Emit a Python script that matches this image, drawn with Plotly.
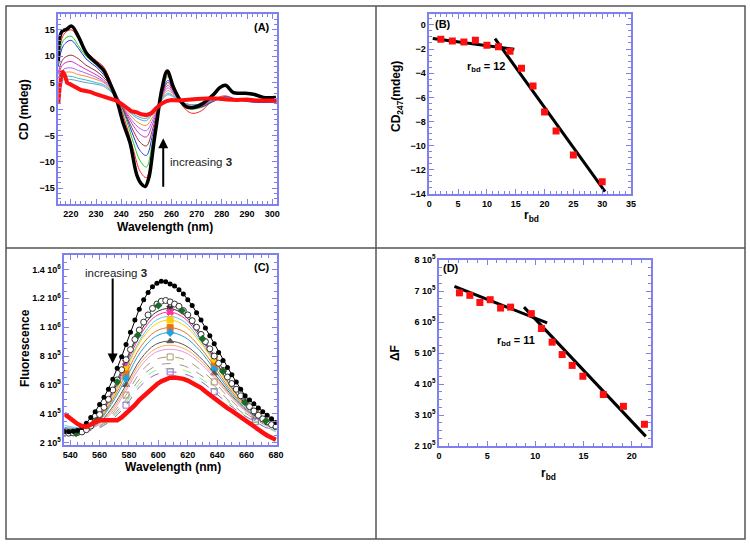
import numpy as np
import plotly.graph_objects as go

# ---------------- panel A: CD spectra ----------------
A_WL = [215, 217, 220, 223, 226, 230, 233, 236, 239, 242, 245, 247.5, 250, 252.5,
        255, 258.5, 261, 264, 268, 272, 276, 281, 286, 292, 301.8]
A_THIN = {
    "#ff2020": [9, 14, 15, 13.5, 11, 9.2, 8, 5, 1.5, -3, -8, -11.8, -13, -7, 0.3, 6.5,
                4, 0.8, -0.8, -0.3, 1.5, 2.5, 1.8, 1.5, 1.5],
    "#22cc22": [8, 13, 13.8, 12, 10, 8.5, 7, 4.8, 1.8, -2, -6.6, -9.8, -11, -6, 0.4, 6.1,
                3.8, 0.8, 0, 0.3, 1.3, 2.3, 1.8, 1.5, 1.4],
    "#2233dd": [8, 12, 13, 11.5, 9.5, 8, 6.5, 4.5, 1.8, -1.5, -5.3, -7.9, -8.8, -4.8, 0.5, 5.4,
                3.5, 0.9, 0.2, 0.4, 1.3, 2.3, 1.8, 1.3, 1.3],
    "#993333": [7, 9.5, 10.2, 9.5, 8.3, 7.2, 6, 4.2, 1.8, -1.2, -4.3, -6.3, -7, -3.8, 0.6, 5,
                3.2, 1, 0.3, 0.5, 1.4, 2.2, 1.8, 1.4, 1.4],
    "#cc33cc": [6.5, 8.5, 9, 8.3, 7.5, 6.5, 5.5, 4, 1.8, -0.8, -3.3, -4.8, -5.3, -2.8, 0.7, 4.5,
                3, 1, 0.4, 0.6, 1.5, 2.2, 1.8, 1.5, 1.5],
    "#a866ee": [6, 7.5, 7.8, 7.3, 6.8, 6, 5.2, 3.8, 1.6, -0.6, -2.6, -3.7, -4.1, -2.1, 0.8, 4,
                2.8, 1.1, 0.5, 0.7, 1.5, 2.1, 1.8, 1.5, 1.5],
    "#ff8833": [5.5, 6.8, 7, 6.5, 6.2, 5.6, 5, 3.6, 1.5, -0.3, -1.9, -2.8, -3.1, -1.5, 0.9, 3.5,
                2.6, 1.2, 0.6, 0.8, 1.6, 2.1, 1.8, 1.6, 1.5],
    "#33bbcc": [5, 6, 6.2, 5.8, 5.5, 5, 4.6, 3.4, 1.5, 0, -1.3, -2, -2.2, -0.9, 1, 3,
                2.4, 1.3, 0.8, 0.9, 1.6, 2, 1.8, 1.6, 1.5],
    "#6699cc": [4.5, 5.5, 5.6, 5.3, 5, 4.7, 4.3, 3.2, 1.5, 0.1, -1, -1.6, -1.8, -0.7, 1, 2.7,
                2.2, 1.3, 0.8, 1, 1.6, 2, 1.8, 1.6, 1.5],
}
A_BLACK_WL = [215, 216.3, 218.3, 220.3, 223, 226.3, 230.3, 232.9, 235.5, 238.2, 240.8, 243.5,
              246.2, 248, 249.5, 251, 252.1, 253, 254.1, 256.1, 258.3, 260.7, 263.4, 266,
              268.7, 272.6, 276.6, 279.3, 281.5, 284.6, 288.5, 292.5, 296.5, 301.5]
A_BLACK = [9.0, 14.6, 15.1, 15.7, 13.7, 10.5, 8.6, 7.4, 4.9, 1.7, -2.7, -6.4,
           -12.5, -14.2, -14.7, -13.0, -9.7, -6.3, -2.7, 3.6, 7.2, 4.2, 1.7, 0.4,
           0.3, 1.1, 2.7, 4.1, 4.5, 3.1, 3.0, 2.8, 2.2, 2.2]
A_RED_WL = [215, 215.5, 216.5, 217.5, 218.5, 220, 222, 224, 226, 228, 230, 232, 234, 236,
            238, 240, 242, 244, 246, 248, 250, 252, 254, 256, 258, 260, 263, 266, 270,
            274, 278, 282, 286, 290, 294, 298, 301.8]
A_RED = [1.0, 4.0, 7.2, 6.5, 5.0, 4.6, 4.2, 3.6, 3.4, 3.2, 2.8, 2.5, 2.2, 2.0,
         1.6, 1.0, 0.3, -0.4, -0.6, -1.0, -1.15, -0.8, 0.2, 1.0, 1.5, 1.7, 1.6, 1.8, 1.9,
         2.0, 2.0, 1.8, 1.7, 1.8, 1.6, 1.6, 1.6]

# ---------------- panel B: CD247 vs r_bd ----------------
B_R = [2, 4, 6, 8, 10, 12, 14, 16, 18, 20, 22, 25, 30]
B_CD = [-1.19, -1.33, -1.41, -1.27, -1.68, -1.82, -2.18, -3.59, -5.05, -7.21, -8.78, -10.77, -12.98]
B_FIT1_X, B_FIT1_Y = [0.6, 14.75], [-1.13, -2.02]
B_FIT2_X, B_FIT2_Y = [11.4, 30.5], [-1.13, -13.8]

# ---------------- panel C: fluorescence spectra (units of 1e5) ----------------
C_WL = [536, 539, 542, 545, 548, 551, 554, 557, 560, 563, 566, 569, 572, 575, 578, 581,
        584, 587, 590, 593, 596, 599, 602, 605, 608, 611, 614, 617, 620, 623, 626, 629,
        632, 635, 638, 641, 644, 647, 650, 653, 656, 659, 662, 665, 668, 671, 674, 677, 680]
C_BLACK = [2.75, 2.76, 2.8, 2.85, 3.05, 3.35, 3.75, 4.15, 4.65, 5.15, 5.7, 6.4, 7.15, 7.95,
           8.8, 9.65, 10.5, 11.25, 11.9, 12.4, 12.8, 13.05, 13.18, 13.15, 13.0, 12.85, 12.6,
           12.3, 11.9, 11.5, 11.0, 10.5, 9.95, 9.4, 8.85, 8.25, 7.7, 7.2, 6.7, 6.2, 5.7,
           5.25, 4.95, 4.7, 4.4, 4.15, 3.9, 3.65, 3.4]
C_OPEN = [2.65, 2.66, 2.68, 2.7, 2.75, 2.9, 3.15, 3.5, 3.95, 4.45, 5.0, 5.65, 6.35, 7.05,
          7.75, 8.45, 9.15, 9.8, 10.35, 10.85, 11.3, 11.6, 11.8, 11.85, 11.75, 11.6, 11.45,
          11.15, 10.85, 10.45, 10.0, 9.5, 9.0, 8.5, 8.0, 7.5, 7.0, 6.55, 6.1, 5.7, 5.25,
          4.85, 4.5, 4.2, 3.9, 3.65, 3.45, 3.25, 3.1]
C_RED = [4.0, 3.75, 3.5, 3.3, 3.15, 3.1, 3.25, 3.45, 3.55, 3.55, 3.5, 3.5, 3.55, 3.75,
         4.0, 4.3, 4.6, 4.95, 5.25, 5.55, 5.8, 6.05, 6.25, 6.4, 6.5, 6.52, 6.5, 6.42, 6.3,
         6.15, 6.0, 5.8, 5.55, 5.3, 5.1, 4.85, 4.6, 4.4, 4.2, 3.98, 3.75, 3.5, 3.3, 3.1,
         2.9, 2.7, 2.5, 2.35, 2.2]
C_GREEN_WL = [544, 558, 572, 586, 600, 616, 630, 644, 659, 673]
C_GREEN = [2.65, 3.55, 6.2, 9.45, 11.5, 11.15, 9.2, 6.95, 4.8, 3.5]

C_THIN_WL = [536, 548, 558, 568, 578, 588, 598, 608, 618, 628, 638, 648, 658, 666, 674, 680]
C_MARK_IDX = [4, 7, 10, 13]
# (colour, dash, marker symbol, values)
C_THIN = [
    ("#333333", "solid", "x", [2.9, 2.9, 3.6, 5.3, 7.55, 9.75, 11.0, 11.3, 10.8, 9.5, 7.85, 6.1, 4.8, 4.05, 3.5, 3.2]),
    ("#ff3399", "solid", "x", [2.95, 2.95, 3.55, 5.2, 7.35, 9.5, 10.75, 11.05, 10.6, 9.35, 7.75, 6.05, 4.75, 4.0, 3.45, 3.15]),
    ("#55ccee", "solid", None, [3.2, 3.05, 3.5, 5.0, 7.15, 9.2, 10.45, 10.75, 10.35, 9.15, 7.65, 6.0, 4.7, 3.95, 3.4, 3.1]),
    ("#ffcc00", "solid", "square", [3.0, 3.0, 3.45, 4.95, 7.05, 9.05, 10.2, 10.5, 10.1, 9.0, 7.6, 5.95, 4.7, 4.1, 3.45, 3.1]),
    ("#e8731a", "solid", "square", [2.95, 2.95, 3.4, 4.8, 6.75, 8.65, 9.7, 9.97, 9.65, 8.65, 7.3, 5.8, 4.6, 3.98, 3.4, 3.05]),
    ("#22a0e0", "solid", "diamond", [3.05, 3.0, 3.35, 4.65, 6.45, 8.3, 9.35, 9.63, 9.3, 8.4, 7.07, 5.65, 4.5, 3.85, 3.35, 3.0]),
    ("#555555", "solid", "triangle-up", [2.9, 2.9, 3.25, 4.35, 6.0, 7.8, 8.8, 9.03, 8.75, 7.95, 6.8, 5.5, 4.4, 3.8, 3.3, 3.0]),
    ("#ffaa55", "solid", None, [2.85, 2.85, 3.2, 4.2, 5.8, 7.55, 8.5, 8.75, 8.5, 7.75, 6.65, 5.4, 4.35, 3.75, 3.25, 2.95]),
    ("#dd99dd", "solid", None, [2.8, 2.85, 3.15, 4.05, 5.6, 7.3, 8.25, 8.47, 8.25, 7.55, 6.5, 5.3, 4.3, 3.7, 3.2, 2.9]),
    ("#b09a6a", "dash", "square-open", [2.75, 2.8, 3.05, 3.9, 5.3, 6.9, 7.75, 7.94, 7.75, 7.1, 6.21, 5.1, 4.15, 3.6, 3.15, 2.85]),
    ("#999999", "dash", None, [2.75, 2.8, 3.0, 3.75, 5.0, 6.5, 7.3, 7.48, 7.3, 6.75, 5.95, 4.9, 4.0, 3.5, 3.05, 2.8]),
    ("#88ee88", "dash", "line-ew-open", [2.8, 2.85, 3.0, 3.65, 4.8, 6.2, 7.0, 7.14, 7.0, 6.5, 5.75, 4.8, 3.95, 3.45, 3.0, 2.75]),
    ("#9966cc", "dash", "square-open", [2.7, 2.8, 2.95, 3.55, 4.6, 5.95, 6.7, 6.9, 6.75, 6.3, 5.52, 4.65, 3.9, 3.45, 3.0, 2.75]),
]

# ---------------- panel D: delta F vs r_bd (units of 1e5) ----------------
D_R = [2.12, 3.2, 4.24, 5.31, 6.39, 7.43, 9.58, 10.63, 11.74, 12.78, 13.82, 14.93, 17.05, 19.14, 21.32]
D_DF = [6.94, 6.86, 6.63, 6.72, 6.45, 6.48, 6.27, 5.79, 5.35, 4.95, 4.6, 4.25, 3.66, 3.28, 2.7]
D_FIT1_X, D_FIT1_Y = [1.6, 11.22], [7.15, 5.97]
D_FIT2_X, D_FIT2_Y = [8.82, 21.46], [6.48, 2.31]

C_TICKS = [2, 4, 6, 8, 10, 12, 14]
C_TICKTEXT = ["2 10<sup>5</sup>", "4 10<sup>5</sup>", "6 10<sup>5</sup>", "8 10<sup>5</sup>",
              "1 10<sup>6</sup>", "1.2 10<sup>6</sup>", "1.4 10<sup>6</sup>"]
D_TICKS = [2, 3, 4, 5, 6, 7, 8]
D_TICKTEXT = [f"{t} 10<sup>5</sup>" for t in D_TICKS]

W, H = 750, 545
FONT = "Liberation Sans, Arial, sans-serif"
AX = "#8080f0"


def px(x):
    return x / W


def py(y):
    return 1 - y / H


def axis(**kw):
    d = dict(showline=True, linecolor=AX, linewidth=1.5, mirror="ticks", ticks="inside",
             ticklen=5, tickwidth=1, tickcolor=AX, showgrid=False, zeroline=False, automargin=False,
             tickfont=dict(family=FONT, size=9, color="black", weight="bold"))
    d.update(kw)
    return d


def minor(dt):
    return dict(ticks="inside", ticklen=3, tickcolor=AX, dtick=dt, showgrid=False)


fig = go.Figure()

# A
for col, vals in A_THIN.items():
    fig.add_trace(go.Scatter(x=A_WL, y=vals, mode="lines", line=dict(color=col, width=1, shape="spline"),
                             xaxis="x", yaxis="y"))
fig.add_trace(go.Scatter(x=A_BLACK_WL, y=A_BLACK, mode="lines",
                         line=dict(color="black", width=3.5, shape="spline"), xaxis="x", yaxis="y"))
fig.add_trace(go.Scatter(x=A_RED_WL, y=A_RED, mode="lines",
                         line=dict(color="#ff1010", width=4), xaxis="x", yaxis="y"))

# B
fig.add_trace(go.Scatter(x=B_FIT1_X, y=B_FIT1_Y, mode="lines", line=dict(color="black", width=3),
                         xaxis="x2", yaxis="y2"))
fig.add_trace(go.Scatter(x=B_FIT2_X, y=B_FIT2_Y, mode="lines", line=dict(color="black", width=3),
                         xaxis="x2", yaxis="y2"))
fig.add_trace(go.Scatter(x=B_R, y=B_CD, mode="markers",
                         marker=dict(symbol="square", size=7, color="#ff1010"), xaxis="x2", yaxis="y2"))

# C
sc = 1e5
for col, dash, sym, vals in C_THIN:
    v = np.array(vals) * sc
    fig.add_trace(go.Scatter(x=C_THIN_WL, y=v, mode="lines",
                             line=dict(color=col, width=1, dash=dash, shape="spline"),
                             xaxis="x3", yaxis="y3"))
    if sym:
        fig.add_trace(go.Scatter(x=[C_THIN_WL[i] for i in C_MARK_IDX], y=[v[i] for i in C_MARK_IDX],
                                 mode="markers",
                                 marker=dict(symbol=sym, size=6, color=col, line=dict(color=col, width=1)),
                                 xaxis="x3", yaxis="y3"))
fig.add_trace(go.Scatter(x=C_WL, y=np.array(C_OPEN) * sc, mode="lines+markers",
                         line=dict(color="#444444", width=1),
                         marker=dict(symbol="circle", size=6, color="white", line=dict(color="#333333", width=1)),
                         xaxis="x3", yaxis="y3"))
fig.add_trace(go.Scatter(x=C_GREEN_WL, y=np.array(C_GREEN) * sc, mode="markers",
                         marker=dict(symbol="diamond", size=6, color="#1a6b2a"), xaxis="x3", yaxis="y3"))
fig.add_trace(go.Scatter(x=C_WL, y=np.array(C_BLACK) * sc, mode="lines+markers",
                         line=dict(color="black", width=1), marker=dict(symbol="circle", size=5, color="black"),
                         xaxis="x3", yaxis="y3"))
fig.add_trace(go.Scatter(x=C_WL, y=np.array(C_RED) * sc, mode="lines",
                         line=dict(color="#ff1010", width=4.5), xaxis="x3", yaxis="y3"))

# D
fig.add_trace(go.Scatter(x=D_FIT1_X, y=np.array(D_FIT1_Y) * sc, mode="lines", line=dict(color="black", width=3),
                         xaxis="x4", yaxis="y4"))
fig.add_trace(go.Scatter(x=D_FIT2_X, y=np.array(D_FIT2_Y) * sc, mode="lines", line=dict(color="black", width=3),
                         xaxis="x4", yaxis="y4"))
fig.add_trace(go.Scatter(x=D_R, y=np.array(D_DF) * sc, mode="markers",
                         marker=dict(symbol="square", size=7, color="#ff1010"), xaxis="x4", yaxis="y4"))

fig.update_layout(
    template="none",
    width=W, height=H, margin=dict(l=0, r=0, t=0, b=0, pad=0), autosize=False,
    paper_bgcolor="white", plot_bgcolor="white", showlegend=False,
    xaxis=axis(domain=[px(58.3), px(276.7)], range=[215, 301.8], anchor="y", dtick=10, tick0=0, minor=minor(2)),
    yaxis=axis(domain=[py(204), py(14)], range=[-18, 18], anchor="x", dtick=5, tick0=0, minor=minor(1)),
    xaxis2=axis(domain=[px(429.3), px(631)], range=[0, 35], anchor="y2", dtick=5, minor=minor(1)),
    yaxis2=axis(domain=[py(194), py(14)], range=[-14, 0.9], anchor="x2", dtick=2, minor=minor(0.5)),
    xaxis3=axis(domain=[px(64.3), px(276.7)], range=[536, 680.5], anchor="y3", dtick=20, tick0=0, minor=minor(5)),
    yaxis3=axis(domain=[py(445), py(255)], range=[1.84e5, 1.5e6], anchor="x3",
                tickvals=[t * sc for t in C_TICKS], ticktext=C_TICKTEXT,
                minor=dict(ticks="inside", ticklen=3, tickcolor=AX, tickmode="linear", tick0=0, dtick=5e4)),
    xaxis4=axis(domain=[px(439), px(651)], range=[0, 22], anchor="y4", dtick=5, minor=minor(1)),
    yaxis4=axis(domain=[py(446), py(260)], range=[2e5, 8e5], anchor="x4",
                tickvals=[t * sc for t in D_TICKS], ticktext=D_TICKTEXT,
                minor=dict(ticks="inside", ticklen=3, tickcolor=AX, tickmode="linear", tick0=0, dtick=2.5e4)),
)

# frame
frame = dict(color="#555555", width=1.5)
fig.add_shape(type="rect", xref="paper", yref="paper", x0=px(6), x1=px(745), y0=py(539), y1=py(6), line=frame)
fig.add_shape(type="line", xref="paper", yref="paper", x0=px(376), x1=px(376), y0=py(539), y1=py(6), line=frame)
fig.add_shape(type="line", xref="paper", yref="paper", x0=px(6), x1=px(745), y0=py(248), y1=py(248), line=frame)


def label(text, x, y, size=12, angle=0, xanchor="center", color="black", bold=True):
    fig.add_annotation(text=text, x=px(x), y=py(y), xref="paper", yref="paper", showarrow=False,
                       textangle=angle, xanchor=xanchor, yanchor="middle",
                       font=dict(family=FONT, size=size, color=color, weight="bold" if bold else "normal"))


label("CD (mdeg)", 24, 110, angle=-90)
label("Wavelength (nm)", 165, 227)
label("CD<sub>247</sub>(mdeg)", 397, 97, angle=-90)
label("r<sub>bd</sub>", 531, 216)
label("Fluorescence", 25, 348, angle=-90)
label("Wavelength (nm)", 173, 467)
label("ΔF", 395, 353, angle=-90)
label("r<sub>bd</sub>", 548, 474)

label("(A)", 262, 27, size=11)
label("(B)", 433, 24, size=11, xanchor="left")
label("(C)", 262, 267, size=11)
label("(D)", 441, 268, size=11, xanchor="left")
label("r<sub>bd</sub> = 12", 465, 67, size=11, xanchor="left")
label("r<sub>bd</sub> = 11", 495, 341, size=11, xanchor="left")
label("increasing <b>3</b>", 168, 162, size=11.5, xanchor="left", color="#222222", bold=False)
label("increasing <b>3</b>", 83, 273, size=11.5, xanchor="left", color="#222222", bold=False)

fig.add_annotation(x=256.7, y=-5.55, ax=256.7, ay=-15, xref="x", yref="y", axref="x", ayref="y",
                   text="", showarrow=True, arrowhead=2, arrowsize=1, arrowwidth=2, arrowcolor="black")
fig.add_annotation(x=568.9, y=7.49e5, ax=568.9, ay=1.347e6, xref="x3", yref="y3", axref="x3", ayref="y3",
                   text="", showarrow=True, arrowhead=2, arrowsize=1, arrowwidth=2, arrowcolor="black")

fig.write_html("out.html", config={"displayModeBar": False},
               post_script="document.body.style.margin='0';")
